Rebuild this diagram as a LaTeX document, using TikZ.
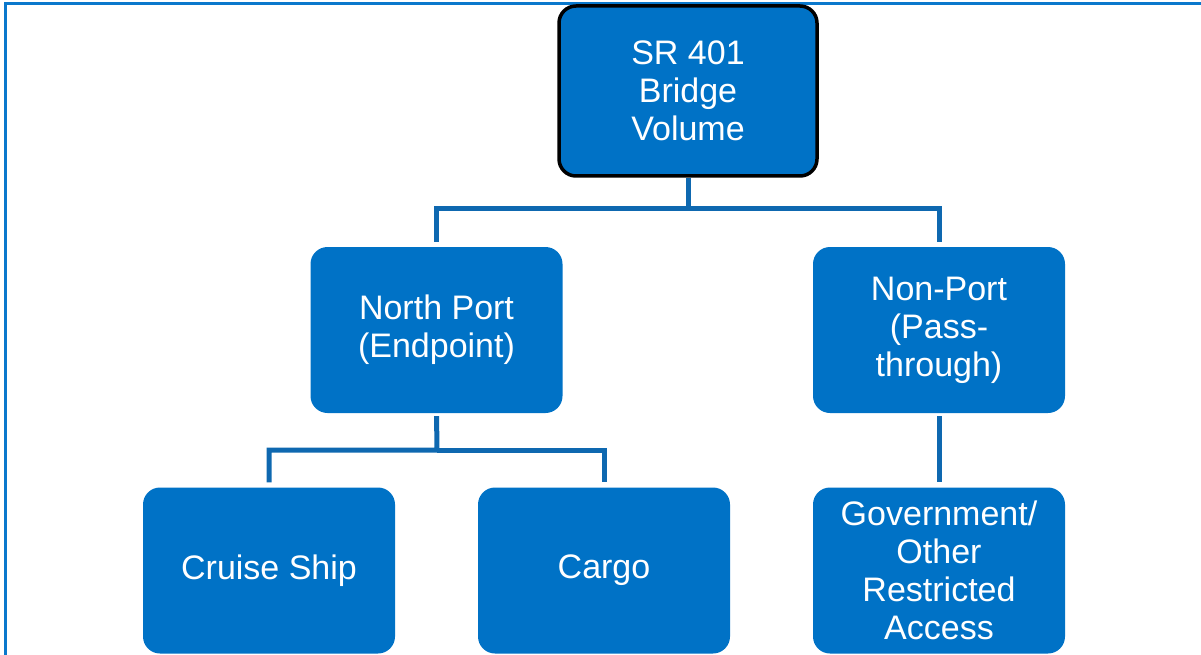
\documentclass[tikz,border=0pt]{standalone}
\usepackage{fontspec}
\setmainfont{Liberation Sans}
\definecolor{boxblue}{RGB}{0,114,198}
\definecolor{lineblue}{RGB}{14,104,176}
\definecolor{frameblue}{RGB}{10,120,204}
\begin{document}
\begin{tikzpicture}[x=1pt,y=-1pt,
  box/.style={rectangle, rounded corners=17pt, fill=boxblue, text=white,
    minimum width=252pt, minimum height=166pt, align=center, inner sep=2pt,
    font=\fontsize{34}{38}\selectfont},
  conn/.style={draw=lineblue, line width=5pt, shorten >=5pt, shorten <=3pt},
  frame/.style={draw=frameblue, line width=3pt}]
\useasboundingbox (0,0) rectangle (1201,655);
\draw[frame] (5.5,660) -- (5.5,4) -- (1205,4);
\node[box, draw=black, line width=3.5pt, minimum width=258pt, minimum height=170pt] (top) at (688,91) {SR 401\\Bridge\\Volume};
\node[box] (north) at (436.5,330) {North Port\\(Endpoint)};
\node[box] (non) at (939,330) {Non-Port\\(Pass-\\through)};
\node[box] (cruise) at (269,570.5) {Cruise Ship};
\node[box] (cargo) at (604,570.5) {Cargo};
\node[box] (gov) at (939,570.5) {Government/\\Other\\Restricted\\Access};
\coordinate (j1) at (688,208);
\coordinate (j2) at (437,450);
\draw[conn, shorten <=0pt] (top.south) -- (j1) -| (north.north);
\draw[conn, shorten <=0pt] (j1) -| (non.north);
\draw[conn] (north.south) -- (j2) -| (cruise.north);
\draw[conn, shorten <=0pt] (j2) -| (cargo.north);
\draw[conn] (non.south) -- (gov.north);
\end{tikzpicture}
\end{document}
